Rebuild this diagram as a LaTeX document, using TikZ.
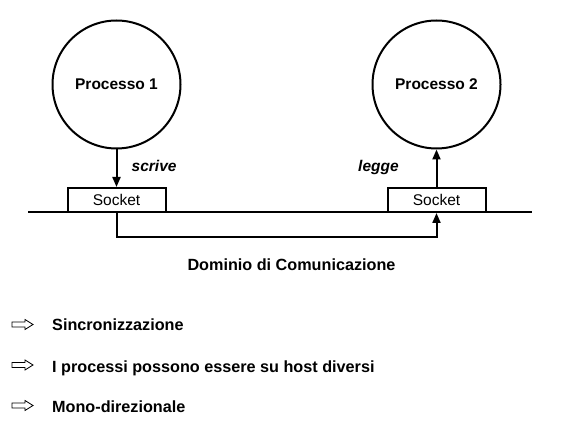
\documentclass[tikz,border=0pt]{standalone}
\usepackage{fontspec}
\setmainfont{Liberation Sans}
\usetikzlibrary{arrows.meta}
\begin{document}
\begin{tikzpicture}[x=1pt,y=-1pt,
  proc/.style={draw,circle,line width=2pt,minimum size=128pt,inner sep=0pt,
    font=\fontsize{15.5}{18}\selectfont\bfseries},
  sock/.style={draw,rectangle,line width=2pt,minimum width=98pt,minimum height=24pt,inner sep=0pt,
    font=\fontsize{15.5}{18}\selectfont},
  lbl/.style={anchor=base west,inner sep=0pt,font=\fontsize{16.2}{19}\selectfont\bfseries},
  ilbl/.style={anchor=base west,inner sep=0pt,font=\fontsize{15.5}{18}\selectfont\bfseries\itshape},
  arr/.style={line width=2pt,-{Triangle[length=10pt,width=8pt]}},
  bar/.style={line width=2.5pt},
  hollow/.pic={\draw[line width=0.8pt,line join=miter] (0,-2.5) -- (13,-2.5) -- (13,-5) -- (21,0) -- (13,5) -- (13,2.5) -- (0,2.5) -- cycle;}
]
\useasboundingbox (0,0) rectangle (570,435);
\fill[white] (0,0) rectangle (570,435);
% processes
\node[proc] (p1) at (116.5,84.5) {Processo 1};
\node[proc] (p2) at (436.5,84.5) {Processo 2};
% communication line
\coordinate (L) at (28,212);
\coordinate (R) at (532,212);
\draw[bar] (L) -- (R);
% sockets
\node[sock] (s1) at (116.5,200) {Socket};
\node[sock] (s2) at (436.5,200) {Socket};
% arrows
\draw[arr] (p1) -- (s1);
\draw[arr] (s2) -- (p2);
\draw[arr] (s1.south) -- ++(0,24) -| (s2.south);
% labels
\node[ilbl] (scr) at (131.5,172) {scrive};
\node[ilbl] (leg) at (358,172) {legge};
\node[lbl,anchor=base] (dom) at (291.5,271) {Dominio di Comunicazione};
% bullets
\pic at (12,324.5) {hollow};
\pic at (12,365) {hollow};
\pic at (12,405.5) {hollow};
\node[lbl] (b1) at (52,331) {Sincronizzazione};
\node[lbl] (b2) at (52,372) {I processi possono essere su host diversi};
\node[lbl] (b3) at (52,412) {Mono-direzionale};
\end{tikzpicture}
\end{document}
